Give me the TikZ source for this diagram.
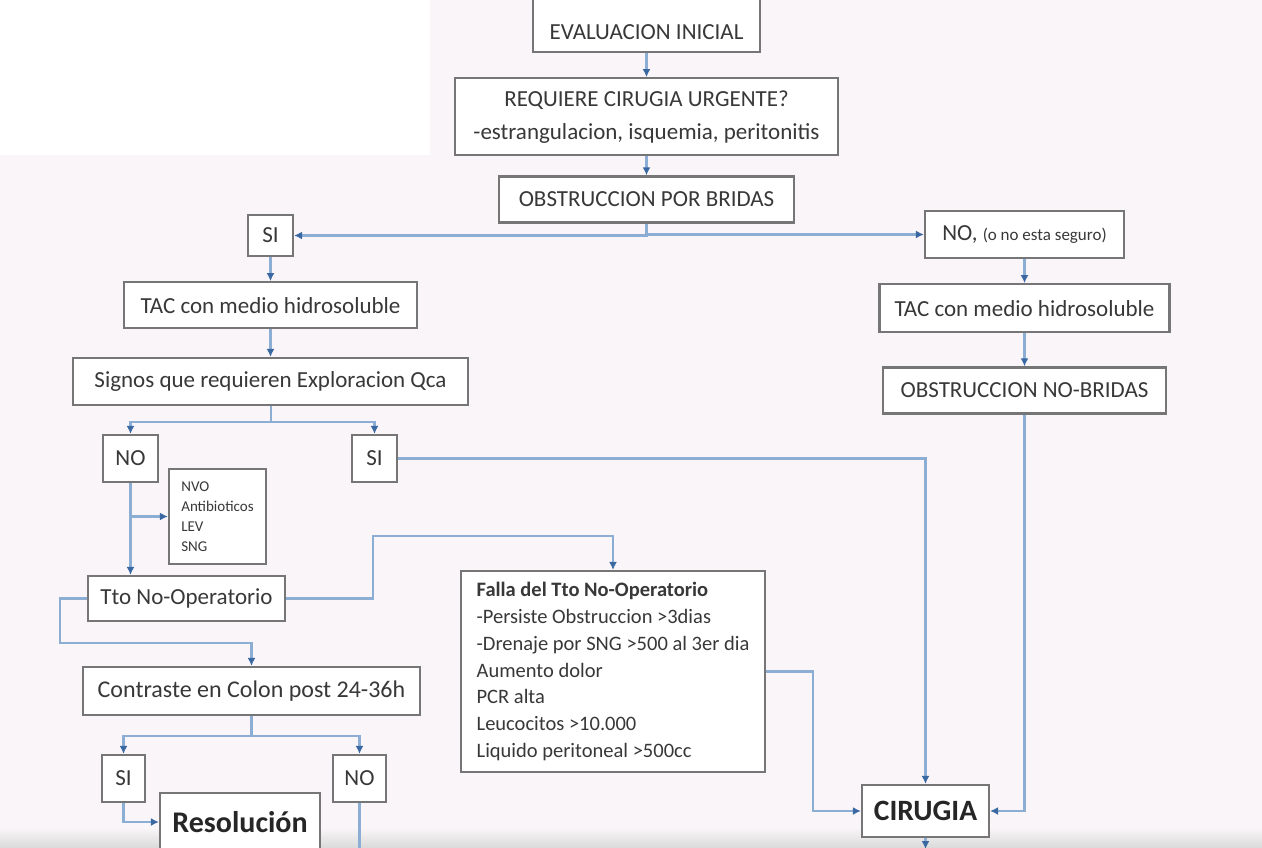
\documentclass[tikz,border=0pt]{standalone}
\usepackage{fontspec}
\setmainfont{Carlito}
\usetikzlibrary{arrows.meta, positioning}
\definecolor{boxgray}{HTML}{767676}
\definecolor{linkblue}{HTML}{8CAED4}
\definecolor{tipblue}{HTML}{3A68A2}
\definecolor{txtgray}{HTML}{383838}
\definecolor{bgpink}{HTML}{F9F5F8}

\begin{document}
\begin{tikzpicture}[x=1pt,y=-1pt,
  box/.style={draw=boxgray,line width=2.2pt,fill=white,text=txtgray,inner sep=0pt,
    font=\fontsize{23}{33}\selectfont},
  bigbox/.style={box,text=black!85,font=\bfseries\fontsize{30}{34}\selectfont},
  link/.style={draw=linkblue,line width=2.3pt},
  arr/.style={link,-{Latex[length=8pt,width=8pt,color=tipblue]}}]
\useasboundingbox (0,0) rectangle (1262,847);
\clip (0,0) rectangle (1262,847);
\fill[bgpink] (0,0) rectangle (1262,847);
\fill[white] (0,0) rectangle (430,155);
\shade[top color=bgpink,bottom color=black!14] (0,828) rectangle (1262,847);

\node[box,minimum width=227pt,text height=43pt,text depth=13pt,anchor=base] (eval) at (646.5,39) {EVALUACION INICIAL};
\node[box,minimum width=383pt,minimum height=77pt,align=center,below=24pt of eval] (req) {REQUIERE CIRUGIA URGENTE?\\-estrangulacion, isquemia, peritonitis};
\node[box,minimum width=295pt,minimum height=46pt,below=19pt of req] (obst) {OBSTRUCCION POR BRIDAS};
\node[box,minimum width=45pt,minimum height=41pt] (si1) at (270.5,235.5) {SI};
\node[box,minimum width=199pt,minimum height=47pt] (no1) at (1024.5,234.5) {NO, {\fontsize{17}{20}\selectfont(o no esta seguro)}};
\node[box,minimum width=293pt,minimum height=46pt,below=24pt of si1] (tacl) {TAC con medio hidrosoluble};
\node[box,minimum width=290pt,minimum height=48pt,below=24pt of no1] (tacr) {TAC con medio hidrosoluble};
\node[box,minimum width=395pt,minimum height=47pt] (signos) at (270.5,381.5) {Signos que requieren Exploracion Qca};
\node[box,minimum width=283pt,minimum height=46pt,below=33pt of tacr] (nobr) {OBSTRUCCION NO-BRIDAS};
\node[box,minimum width=55pt,minimum height=47pt] (no2) at (130.5,458.5) {NO};
\node[box,minimum width=45pt,minimum height=47pt] (si2) at (374.5,458.5) {SI};
\node[box,minimum width=97pt,minimum height=95pt,align=left,font=\fontsize{15}{20}\selectfont] (nvo) at (217.5,516.5) {NVO\\Antibioticos\\LEV\\SNG};
\node[box,minimum width=197pt,minimum height=45pt] (tto) at (186.5,598.5) {Tto No-Operatorio};
\node[box,minimum width=304pt,minimum height=201pt,align=left,font=\fontsize{20.5}{26.7}\selectfont] (falla) at (613,671.5) {\textbf{Falla del Tto No-Operatorio}\\-Persiste Obstruccion >3dias\\-Drenaje por SNG >500 al 3er dia\\Aumento dolor\\PCR alta\\Leucocitos >10.000\\Liquido peritoneal >500cc};
\node[box,minimum width=337pt,minimum height=48pt,font=\fontsize{24}{30}\selectfont] (contr) at (251.5,691) {Contraste en Colon post 24-36h};
\node[box,minimum width=43pt,minimum height=47pt] (si3) at (123.5,778.5) {SI};
\node[box,minimum width=53pt,minimum height=47pt] (no3) at (359.5,778.5) {NO};
\node[bigbox,minimum width=160pt,minimum height=58pt] (resol) at (240,822) {Resolución};
\node[bigbox,minimum width=127pt,minimum height=52pt,font=\bfseries\fontsize{29.5}{34}\selectfont] (cir) at (925.5,811) {CIRUGIA};

\coordinate (sg) at (271,422);
\coordinate (tl) at (60,643);
\coordinate (tr) at (373,536);
\coordinate (fr) at (813,811);
\coordinate (nobot) at (359.5,852);
\coordinate (cbot) at (925.5,849);

\draw[arr] (eval) -- (req);
\draw[arr] (req) -- (obst);
\draw[arr] (obst.south) |- (si1.east);
\draw[arr] (obst.south) |- (no1.west);
\draw[arr] (si1) -- (tacl);
\draw[arr] (no1) -- (tacr);
\draw[arr] (tacr) -- (nobr);
\draw[arr] (tacl.south) -- (tacl.south |- signos.north);
\draw[link] (signos.south -| sg) -- (sg);
\draw[arr] (sg) -| (no2.north);
\draw[arr] (sg) -| (si2.north);
\draw[arr] (si2.east) -| (cir.north);
\draw[arr] (no2.south) -- (no2.south |- tto.north);
\draw[arr] (no2.south |- nvo.west) -- (nvo.west);
\draw[arr] (tto.west) -| (tl) -| (contr.north);
\draw[arr] (tto.east) -| (tr) -| (falla.north);
\draw[arr] (falla.east) -| (fr) -- (cir.west);
\draw[arr] (nobr.south) |- (cir.east);
\draw[arr] (contr.south) -- ++(0,20) -| (si3.north);
\draw[arr] (contr.south) -- ++(0,20) -| (no3.north);
\draw[arr] (si3.south) |- (resol.west);
\draw[link] (no3.south) -- (nobot);
\draw[arr] (cir.south) -- (cbot);
\end{tikzpicture}
\end{document}
